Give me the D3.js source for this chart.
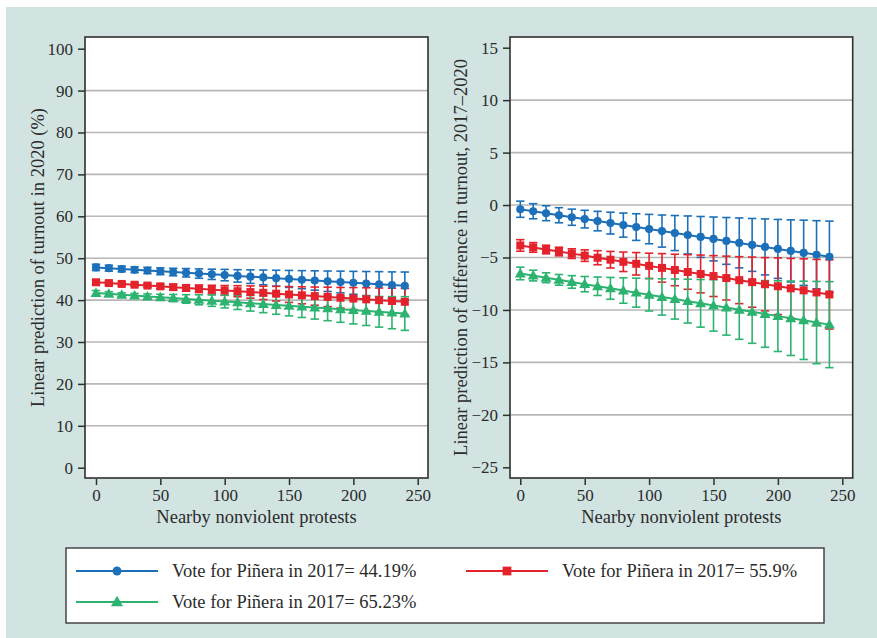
<!DOCTYPE html>
<html>
<head>
<meta charset="utf-8">
<script src="https://cdn.jsdelivr.net/npm/d3@7"></script>
<style>
  html, body { margin: 0; padding: 0; background: #ffffff; }
  svg { display: block; }
  text { font-family: "Liberation Serif", "DejaVu Serif", serif; fill: #2b2b2b; }
</style>
</head>
<body>
<svg id="chart" width="877" height="638"></svg>
<script>
// Nearby nonviolent protests (x values shared by every series)
const protests = [0, 10, 20, 30, 40, 50, 60, 70, 80, 90, 100, 110, 120,
                  130, 140, 150, 160, 170, 180, 190, 200, 210, 220, 230, 240];

const seriesNames = [
  "Vote for Piñera in 2017= 44.19%",
  "Vote for Piñera in 2017= 55.9%",
  "Vote for Piñera in 2017= 65.23%"
];

// Left panel: predicted turnout in 2020 (%)
const turnout44 = [47.80, 47.62, 47.43, 47.25, 47.07, 46.88, 46.70, 46.52, 46.33, 46.15, 45.97, 45.78, 45.60,
                   45.42, 45.23, 45.05, 44.87, 44.68, 44.50, 44.32, 44.13, 43.95, 43.77, 43.58, 43.40];
const turnout56 = [44.25, 44.06, 43.86, 43.67, 43.47, 43.28, 43.09, 42.89, 42.70, 42.50, 42.31, 42.12, 41.92,
                   41.73, 41.53, 41.34, 41.15, 40.95, 40.76, 40.56, 40.37, 40.18, 39.98, 39.79, 39.60];
const turnout65 = [41.70, 41.50, 41.29, 41.09, 40.88, 40.68, 40.48, 40.27, 40.07, 39.86, 39.66, 39.46, 39.25,
                   39.05, 38.84, 38.64, 38.44, 38.23, 38.03, 37.82, 37.62, 37.42, 37.21, 37.01, 36.80];
// Left panel: half-width of the confidence intervals
const turnoutCi44 = [0.75, 0.70, 0.69, 0.70, 0.75, 0.81, 0.90, 1.01, 1.12, 1.23, 1.36, 1.48, 1.62,
                     1.76, 1.89, 2.03, 2.16, 2.31, 2.44, 2.59, 2.73, 2.87, 3.02, 3.15, 3.30];
const turnoutCi56 = [0.53, 0.45, 0.40, 0.40, 0.45, 0.53, 0.65, 0.77, 0.90, 1.04, 1.17, 1.32, 1.46,
                     1.60, 1.75, 1.89, 2.03, 2.17, 2.32, 2.46, 2.62, 2.76, 2.91, 3.06, 3.20];
const turnoutCi65 = [0.59, 0.50, 0.46, 0.50, 0.59, 0.72, 0.86, 1.02, 1.19, 1.35, 1.52, 1.70, 1.87,
                     2.05, 2.22, 2.40, 2.58, 2.76, 2.94, 3.12, 3.30, 3.48, 3.66, 3.84, 4.02];

// Right panel: predicted difference in turnout, 2017–2020
const diff44 = [-0.40, -0.59, -0.78, -0.97, -1.16, -1.34, -1.53, -1.72, -1.91, -2.10, -2.29, -2.48, -2.67,
                -2.85, -3.04, -3.23, -3.42, -3.61, -3.80, -3.99, -4.18, -4.37, -4.55, -4.74, -4.93];
const diff56 = [-3.85, -4.04, -4.24, -4.43, -4.63, -4.82, -5.02, -5.21, -5.41, -5.60, -5.80, -5.99, -6.19,
                -6.38, -6.57, -6.77, -6.96, -7.16, -7.35, -7.55, -7.74, -7.94, -8.13, -8.33, -8.52];
const diff65 = [-6.52, -6.72, -6.93, -7.13, -7.33, -7.54, -7.74, -7.94, -8.15, -8.35, -8.55, -8.76, -8.96,
                -9.16, -9.37, -9.57, -9.77, -9.98, -10.18, -10.38, -10.59, -10.79, -10.99, -11.20, -11.40];
// Right panel: half-width of the confidence intervals
const diffCi44 = [0.77, 0.72, 0.71, 0.72, 0.77, 0.84, 0.93, 1.04, 1.15, 1.27, 1.40, 1.53, 1.67,
                  1.81, 1.95, 2.09, 2.23, 2.38, 2.52, 2.67, 2.81, 2.96, 3.11, 3.25, 3.40];
const diffCi56 = [0.55, 0.46, 0.41, 0.41, 0.46, 0.55, 0.67, 0.79, 0.93, 1.07, 1.21, 1.36, 1.50,
                  1.65, 1.80, 1.95, 2.09, 2.24, 2.39, 2.54, 2.70, 2.85, 3.00, 3.15, 3.30];
const diffCi65 = [0.60, 0.51, 0.47, 0.51, 0.60, 0.73, 0.88, 1.04, 1.21, 1.38, 1.55, 1.73, 1.91,
                  2.09, 2.27, 2.45, 2.63, 2.82, 3.00, 3.18, 3.37, 3.55, 3.73, 3.92, 4.10];

// Tick values
const xTicks = [0, 50, 100, 150, 200, 250];
const leftYTicks = [0, 10, 20, 30, 40, 50, 60, 70, 80, 90, 100];
const rightYTicks = [-25, -20, -15, -10, -5, 0, 5, 10, 15];

const colors = ["#1b70b9", "#e3222b", "#2cb370"];
const shapes = [d3.symbolCircle, d3.symbolSquare, d3.symbolTriangle];
const shapeSizes = [52, 64, 52];

const svg = d3.select("#chart");

// Page background
svg.append("rect").attr("x", 6).attr("y", 7).attr("width", 871).attr("height", 631)
   .attr("fill", "#d2e4e2");

function minusFmt(v) { return v < 0 ? "\u2212" + Math.abs(v) : String(v); }

function drawPanel(opts) {
  const { box, xRange, yDomain, yRange, yTicks, yTitle, yTitleX, series } = opts;
  const x = d3.scaleLinear().domain([0, 250]).range(xRange);
  const y = d3.scaleLinear().domain(yDomain).range(yRange);
  const g = svg.append("g");

  // Plot area
  g.append("rect").attr("x", box.x0).attr("y", box.y0)
    .attr("width", box.x1 - box.x0).attr("height", box.y1 - box.y0)
    .attr("fill", "#ffffff");

  // Horizontal grid lines on the inner ticks
  g.selectAll(".grid").data(yTicks.slice(1, -1)).join("line")
    .attr("x1", box.x0).attr("x2", box.x1)
    .attr("y1", d => y(d)).attr("y2", d => y(d))
    .attr("stroke", "#b7b7b7").attr("stroke-width", 1.6);

  // Confidence intervals (vertical bars with caps)
  series.forEach((s, si) => {
    const eg = g.append("g").attr("stroke", colors[si]).attr("stroke-width", 1.6).attr("fill", "none");
    protests.forEach((p, i) => {
      const cx = x(p), lo = y(s.values[i] - s.ci[i]), hi = y(s.values[i] + s.ci[i]);
      eg.append("line").attr("x1", cx).attr("x2", cx).attr("y1", lo).attr("y2", hi);
      eg.append("line").attr("x1", cx - 4.2).attr("x2", cx + 4.2).attr("y1", lo).attr("y2", lo);
      eg.append("line").attr("x1", cx - 4.2).attr("x2", cx + 4.2).attr("y1", hi).attr("y2", hi);
    });
  });

  // Connected lines and markers
  series.forEach((s, si) => {
    const line = d3.line().x((d, i) => x(protests[i])).y(d => y(d));
    g.append("path").datum(s.values).attr("d", line)
      .attr("fill", "none").attr("stroke", colors[si]).attr("stroke-width", 2);
    g.selectAll(null).data(s.values).join("path")
      .attr("transform", (d, i) => `translate(${x(protests[i])},${y(d) + (si === 2 ? 0.8 : 0)})`)
      .attr("d", d3.symbol().type(shapes[si]).size(shapeSizes[si]))
      .attr("fill", colors[si]);
  });

  // Frame
  g.append("rect").attr("x", box.x0).attr("y", box.y0)
    .attr("width", box.x1 - box.x0).attr("height", box.y1 - box.y0)
    .attr("fill", "none").attr("stroke", "#2f2f2f").attr("stroke-width", 1.6);

  // Y axis
  const yAxis = d3.axisLeft(y).tickValues(yTicks).tickSize(7).tickPadding(5).tickFormat(minusFmt);
  const ya = g.append("g").attr("transform", `translate(${box.x0},0)`).call(yAxis);
  ya.select(".domain").remove();
  ya.selectAll(".tick line").attr("stroke", "#2f2f2f").attr("stroke-width", 1.5);
  ya.selectAll(".tick text").attr("font-size", 17).attr("fill", "#333333")
    .attr("font-family", "Liberation Serif");

  // X axis, set slightly below the frame
  const xAxis = d3.axisBottom(x).tickValues(xTicks).tickSize(6).tickPadding(4);
  const xa = g.append("g").attr("transform", `translate(0,${box.y1 + 1})`).call(xAxis);
  xa.select(".domain").remove();
  xa.selectAll(".tick line").attr("stroke", "#2f2f2f").attr("stroke-width", 1.5);
  xa.selectAll(".tick text").attr("font-size", 17).attr("fill", "#333333")
    .attr("font-family", "Liberation Serif");

  // Axis titles
  g.append("text").attr("x", (box.x0 + box.x1) / 2).attr("y", 523)
    .attr("text-anchor", "middle").attr("font-size", 18.5).text("Nearby nonviolent protests");
  g.append("text").attr("transform", `translate(${yTitleX},${(box.y0 + box.y1) / 2}) rotate(-90)`)
    .attr("text-anchor", "middle").attr("font-size", 18.5).text(yTitle);
}

drawPanel({
  box: { x0: 85, y0: 37, x1: 428, y1: 478 },
  xRange: [96, 417.7],
  yDomain: [0, 100], yRange: [467.7, 48.7],
  yTicks: leftYTicks,
  yTitle: "Linear prediction of turnout in 2020 (%)",
  yTitleX: 44,
  series: [
    { values: turnout44, ci: turnoutCi44 },
    { values: turnout56, ci: turnoutCi56 },
    { values: turnout65, ci: turnoutCi65 }
  ]
});

drawPanel({
  box: { x0: 510, y0: 37, x1: 852.7, y1: 478 },
  xRange: [520.3, 842.3],
  yDomain: [-25, 15], yRange: [467.3, 47.7],
  yTicks: rightYTicks,
  yTitle: "Linear prediction of difference in turnout, 2017\u20132020",
  yTitleX: 467,
  series: [
    { values: diff44, ci: diffCi44 },
    { values: diff56, ci: diffCi56 },
    { values: diff65, ci: diffCi65 }
  ]
});

// Legend
const legend = svg.append("g");
legend.append("rect").attr("x", 66).attr("y", 548).attr("width", 758).attr("height", 75)
  .attr("fill", "#ffffff").attr("stroke", "#3a3a3a").attr("stroke-width", 1.4);
const legendPos = [
  { x: 76, y: 571 },
  { x: 466, y: 571 },
  { x: 76, y: 602 }
];
seriesNames.forEach((name, i) => {
  const p = legendPos[i];
  legend.append("line").attr("x1", p.x).attr("x2", p.x + 82).attr("y1", p.y).attr("y2", p.y)
    .attr("stroke", colors[i]).attr("stroke-width", 2);
  legend.append("path").attr("transform", `translate(${p.x + 41},${p.y + (i === 2 ? 0.8 : 0)})`)
    .attr("d", d3.symbol().type(shapes[i]).size(shapeSizes[i] * 1.2)).attr("fill", colors[i]);
  legend.append("text").attr("x", p.x + 96).attr("y", p.y + 6)
    .attr("font-size", 18.5).text(name);
});
</script>
</body>
</html>
